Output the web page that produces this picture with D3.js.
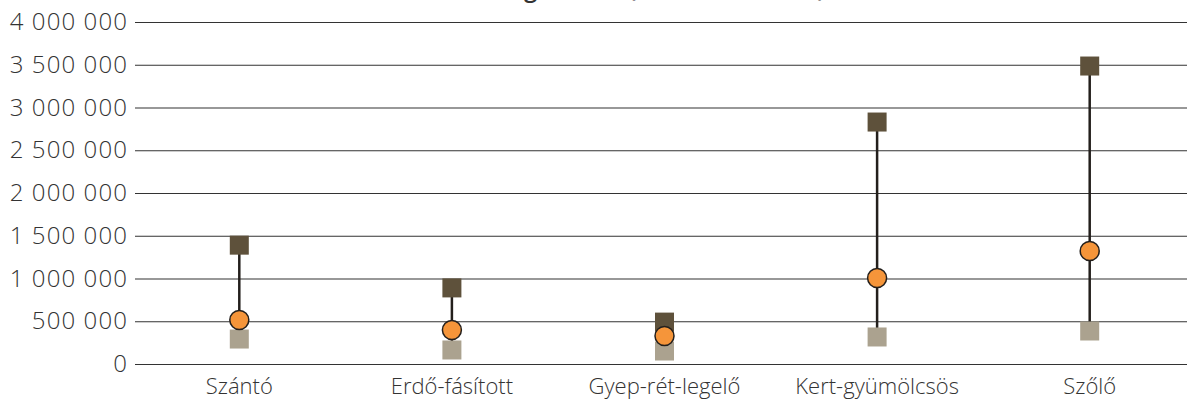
<!DOCTYPE html>
<html>
<head>
<meta charset="utf-8">
<script src="https://cdn.jsdelivr.net/npm/d3@7"></script>
<style>
  body { margin: 0; background: #fff; }
  svg text { font-family: "Open Sans", "Noto Sans", sans-serif; fill: #333; }
</style>
</head>
<body>
<svg id="chart"></svg>
<script>
let svgWidth = 1187
let svgHeight = 401

// data (Ft/ha)
const categories = ['Szántó', 'Erdő-fásított', 'Gyep-rét-legelő', 'Kert-gyümölcsös', 'Szőlő']
const maxValues = [1390000, 890000, 490000, 2830000, 3485000]
const avgValues = [515000, 398000, 327000, 1006000, 1322000]
const minValues = [292000, 164000, 152000, 316000, 386000]
const yTicks = [0, 500000, 1000000, 1500000, 2000000, 2500000, 3000000, 3500000, 4000000]
const title = 'Földárak művelési ág szerint (Ft/ha, min, max)'

let margin = {left: 131, top: 22, right: 0, bottom: 37}

let svg = d3.select('#chart')
    .attr('width', svgWidth)
    .attr('height', svgHeight)

let xScale = d3.scaleBand()
    .domain(categories)
    .range([133, 1196])

let yScale = d3.scaleLinear()
    .domain([0, 4000000])
    .range([svgHeight - margin.bottom, margin.top])

// thousands separated by spaces
let fmt = function(v){
    return d3.format(',')(v).replace(/,/g, ' ')
}

// gridlines + labels via axis
let yAxis = d3.axisLeft(yScale)
    .tickValues(yTicks)
    .tickFormat(fmt)
    .tickSize(-(svgWidth - margin.left))
    .tickPadding(3)

let gy = svg.append('g')
    .attr('transform', `translate(${margin.left},0)`)
    .call(yAxis)
gy.select('.domain').remove()
gy.selectAll('.tick line')
    .attr('stroke', '#333')
    .attr('stroke-width', 1.2)
    .attr('x1', 4)
gy.selectAll('.tick text')
    .attr('font-size', 24)
    .attr('font-weight', 300)
    .attr('letter-spacing', 1.1)
    .attr('fill', '#333')
    .style('font-family', '"Open Sans", sans-serif')

let xAxis = d3.axisBottom(xScale).tickSize(0).tickPadding(14)
let gx = svg.append('g')
    .attr('transform', `translate(0,${yScale(0)})`)
    .call(xAxis)
gx.select('.domain').remove()
gx.selectAll('.tick text')
    .attr('font-size', 22)
    .attr('font-weight', 300)
    .attr('fill', '#333')
    .style('font-family', '"Open Sans", sans-serif')

let cx = function(i){ return xScale(categories[i]) + xScale.bandwidth() / 2 }

let g = svg.append('g')

// range line
g.selectAll('line.range').data(categories)
    .enter()
    .append('line')
    .attr('class', 'range')
    .attr('x1', (d, i) => cx(i))
    .attr('x2', (d, i) => cx(i))
    .attr('y1', (d, i) => yScale(maxValues[i]))
    .attr('y2', (d, i) => yScale(minValues[i]))
    .attr('stroke', '#231f1c')
    .attr('stroke-width', 2.5)

let sq = 19

g.selectAll('rect.min').data(minValues)
    .enter()
    .append('rect')
    .attr('class', 'min')
    .attr('x', (d, i) => cx(i) - sq / 2)
    .attr('y', d => yScale(d) - sq / 2)
    .attr('width', sq)
    .attr('height', sq)
    .attr('fill', '#aba28f')

g.selectAll('rect.max').data(maxValues)
    .enter()
    .append('rect')
    .attr('class', 'max')
    .attr('x', (d, i) => cx(i) - sq / 2)
    .attr('y', d => yScale(d) - sq / 2)
    .attr('width', sq)
    .attr('height', sq)
    .attr('fill', '#5e513b')

g.selectAll('circle.avg').data(avgValues)
    .enter()
    .append('circle')
    .attr('class', 'avg')
    .attr('cx', (d, i) => cx(i))
    .attr('cy', d => yScale(d))
    .attr('r', 9.5)
    .attr('fill', '#f5953a')
    .attr('stroke', '#231f1c')
    .attr('stroke-width', 1.5)

// title sits mostly above the visible area, as in the source
svg.append('text')
    .attr('x', 825)
    .attr('y', -3)
    .attr('text-anchor', 'end')
    .attr('font-size', 24)
    .attr('font-weight', 600)
    .attr('fill', '#222')
    .text(title)
</script>
</body>
</html>
